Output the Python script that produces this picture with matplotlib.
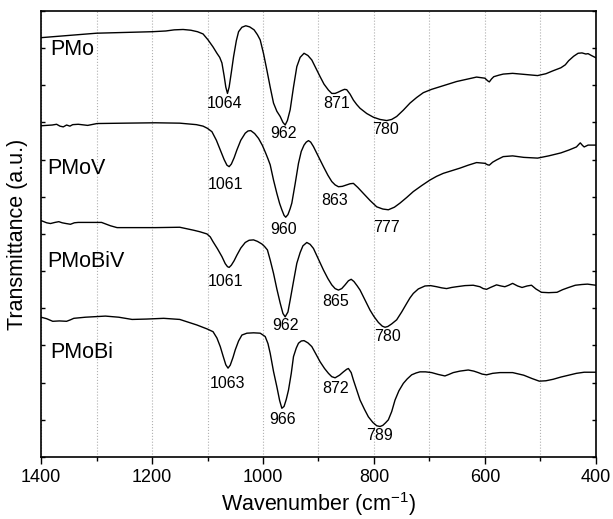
import matplotlib
matplotlib.use("Agg")
import matplotlib.pyplot as plt
from matplotlib.ticker import MultipleLocator

plt.rcParams['font.family'] = ['Liberation Sans', 'DejaVu Sans']
plt.rcParams['mathtext.default'] = 'regular'

# ---------------- data (wavenumber cm^-1, transmittance a.u.) ----------------
pmo_wn = [1400, 1350, 1300, 1250, 1200, 1175, 1160, 1144, 1130, 1118, 1108, 1099, 1090, 1083,
          1078, 1074, 1070, 1067, 1064, 1061, 1057, 1053, 1048, 1044, 1038, 1031, 1024, 1016,
          1010, 1005, 999, 993, 987, 981, 975, 969, 964, 960, 956, 951, 945, 939, 933, 926,
          919, 912, 905, 897, 890, 882, 876, 870, 865, 858, 853, 849, 843, 837, 831, 825,
          813, 801, 789, 777, 768, 759, 747, 735, 723, 711, 696, 681, 666, 651, 633, 615,
          600, 595, 592, 588, 584, 575, 567, 550, 520, 505, 490, 477, 463, 455, 449, 440,
          432, 425, 418, 414, 408, 400]
pmo_t = [11.28, 11.34, 11.40, 11.42, 11.44, 11.46, 11.49, 11.50, 11.48, 11.44, 11.38, 11.22,
         11.03, 10.86, 10.75, 10.60, 10.25, 9.95, 9.78, 9.95, 10.35, 10.77, 11.20, 11.44,
         11.56, 11.60, 11.57, 11.49, 11.36, 11.22, 10.85, 10.41, 9.95, 9.52, 9.30, 9.16,
         9.00, 8.93, 9.05, 9.34, 9.95, 10.50, 10.75, 10.86, 10.80, 10.68, 10.47, 10.23,
         10.03, 9.87, 9.78, 9.78, 9.81, 9.86, 9.89, 9.88, 9.76, 9.60, 9.48, 9.38, 9.24,
         9.14, 9.08, 9.05, 9.08, 9.16, 9.33, 9.52, 9.67, 9.80, 9.89, 9.96, 10.03, 10.10,
         10.16, 10.22, 10.19, 10.12, 10.09, 10.17, 10.23, 10.27, 10.30, 10.32, 10.28, 10.26,
         10.31, 10.39, 10.47, 10.55, 10.66, 10.78, 10.86, 10.87, 10.84, 10.85, 10.80, 10.74]

pmov_wn = [1400, 1390, 1380, 1372, 1366, 1360, 1354, 1348, 1343, 1333, 1316, 1299, 1250,
           1194, 1150, 1120, 1108, 1100, 1092, 1084, 1077, 1070, 1065, 1061, 1057, 1052,
           1047, 1040, 1032, 1027, 1022, 1015, 1008, 1001, 995, 991, 987, 981, 975, 970,
           966, 962, 959, 955, 951, 948, 942, 936, 931, 926, 922, 918, 914, 909, 900, 891,
           883, 876, 870, 864, 857, 849, 843, 837, 829, 819, 807, 795, 784, 774, 763, 753,
           741, 729, 714, 699, 687, 675, 660, 645, 630, 615, 600, 595, 592, 586, 579, 567,
           550, 530, 505, 485, 463, 448, 435, 430, 428, 424, 421, 414, 400]
pmov_t = [8.91, 8.92, 8.93, 8.95, 8.90, 8.88, 8.93, 8.90, 8.94, 8.95, 8.92, 8.97, 8.98,
          8.99, 8.98, 8.94, 8.90, 8.84, 8.75, 8.52, 8.26, 8.00, 7.85, 7.81, 7.88, 8.05,
          8.26, 8.52, 8.71, 8.77, 8.78, 8.70, 8.57, 8.38, 8.17, 8.02, 7.86, 7.45, 7.09,
          6.82, 6.65, 6.50, 6.45, 6.52, 6.68, 6.83, 7.35, 7.90, 8.22, 8.39, 8.47, 8.51,
          8.47, 8.35, 8.08, 7.81, 7.58, 7.41, 7.32, 7.27, 7.28, 7.32, 7.35, 7.36, 7.25,
          7.09, 6.90, 6.73, 6.67, 6.65, 6.72, 6.83, 6.98, 7.14, 7.30, 7.45, 7.55, 7.63,
          7.70, 7.77, 7.85, 7.92, 7.90, 7.86, 7.85, 7.93, 7.99, 8.08, 8.10, 8.06, 8.04,
          8.10, 8.18, 8.26, 8.34, 8.42, 8.45, 8.38, 8.34, 8.39, 8.39]

pmobiv_wn = [1400, 1390, 1383, 1375, 1368, 1362, 1355, 1347, 1340, 1333, 1310, 1291, 1275,
             1263, 1230, 1194, 1150, 1125, 1114, 1101, 1095, 1090, 1082, 1074, 1068, 1064,
             1061, 1057, 1052, 1047, 1040, 1032, 1025, 1017, 1010, 1002, 997, 992, 987, 981,
             975, 969, 964, 960, 955, 951, 945, 939, 933, 928, 921, 915, 909, 900, 891, 883,
             876, 870, 864, 858, 852, 846, 841, 836, 830, 825, 816, 807, 800, 792, 785, 780,
             775, 768, 759, 750, 741, 735, 729, 720, 708, 698, 687, 678, 669, 660, 651, 636,
             621, 609, 603, 597, 590, 579, 571, 564, 557, 550, 541, 533, 524, 516, 508, 498,
             485, 470, 460, 449, 437, 425, 415, 400]
pmobiv_t = [6.36, 6.30, 6.28, 6.31, 6.33, 6.30, 6.28, 6.26, 6.30, 6.31, 6.31, 6.31, 6.22,
            6.17, 6.17, 6.17, 6.18, 6.10, 6.06, 6.00, 5.92, 5.79, 5.60, 5.39, 5.20, 5.12,
            5.10, 5.16, 5.28, 5.43, 5.62, 5.77, 5.83, 5.84, 5.80, 5.73, 5.66, 5.57, 5.30,
            4.94, 4.52, 4.14, 3.86, 3.77, 3.90, 4.22, 4.72, 5.21, 5.50, 5.68, 5.77, 5.72,
            5.61, 5.32, 5.03, 4.80, 4.63, 4.53, 4.49, 4.53, 4.63, 4.74, 4.78, 4.72, 4.60,
            4.49, 4.22, 3.95, 3.78, 3.62, 3.52, 3.49, 3.51, 3.58, 3.69, 3.90, 4.13, 4.28,
            4.40, 4.52, 4.60, 4.61, 4.58, 4.55, 4.53, 4.56, 4.58, 4.61, 4.62, 4.58, 4.53,
            4.51, 4.56, 4.63, 4.60, 4.58, 4.62, 4.67, 4.60, 4.56, 4.60, 4.62, 4.52, 4.43,
            4.42, 4.43, 4.50, 4.56, 4.62, 4.64, 4.65, 4.62]

pmobi_wn = [1400, 1390, 1379, 1367, 1354, 1347, 1341, 1320, 1284, 1260, 1236, 1210, 1179,
            1150, 1119, 1100, 1090, 1083, 1077, 1072, 1067, 1063, 1059, 1054, 1050, 1044,
            1038, 1029, 1017, 1005, 996, 991, 987, 981, 975, 970, 966, 962, 958, 954, 949,
            945, 940, 936, 931, 926, 919, 912, 905, 897, 889, 882, 876, 870, 862, 855, 849,
            846, 841, 837, 831, 825, 817, 810, 802, 795, 789, 784, 779, 774, 768, 762, 755,
            747, 740, 732, 724, 717, 707, 696, 684, 672, 665, 657, 645, 630, 620, 612, 605,
            597, 586, 573, 560, 550, 530, 515, 502, 490, 477, 463, 449, 435, 421, 400]
pmobi_t = [3.76, 3.72, 3.65, 3.66, 3.65, 3.69, 3.73, 3.76, 3.79, 3.76, 3.70, 3.71, 3.73,
           3.70, 3.55, 3.44, 3.37, 3.20, 2.97, 2.72, 2.48, 2.39, 2.47, 2.68, 2.88, 3.12,
           3.28, 3.33, 3.34, 3.33, 3.24, 3.05, 2.79, 2.30, 1.89, 1.52, 1.31, 1.36, 1.55,
           1.80, 2.25, 2.70, 2.93, 3.06, 3.12, 3.13, 3.07, 2.97, 2.78, 2.56, 2.38, 2.25,
           2.16, 2.13, 2.20, 2.29, 2.36, 2.38, 2.27, 2.07, 1.80, 1.53, 1.28, 1.08, 0.93,
           0.84, 0.82, 0.85, 0.92, 1.00, 1.22, 1.53, 1.78, 1.98, 2.10, 2.21, 2.26, 2.29,
           2.29, 2.27, 2.22, 2.18, 2.22, 2.27, 2.31, 2.34, 2.31, 2.27, 2.23, 2.21, 2.25,
           2.27, 2.27, 2.27, 2.20, 2.11, 2.04, 2.05, 2.09, 2.15, 2.20, 2.25, 2.28, 2.28]

series_names = ["PMo", "PMoV", "PMoBiV", "PMoBi"]
name_pos = [(1384, 10.97), (1389, 7.77), (1389, 5.25), (1384, 2.82)]

peak_labels = ["1064", "962", "871", "780",
               "1061", "960", "863", "777",
               "1061", "962", "865", "780",
               "1063", "966", "872", "789"]
peak_pos = [(1070, 9.50), (963, 8.71), (867, 9.52), (779, 8.80),
            (1067, 7.34), (963, 6.11), (870, 6.90), (777, 6.18),
            (1067, 4.72), (960, 3.55), (869, 4.18), (775, 3.24),
            (1064, 1.98), (965, 1.00), (869, 1.85), (790, 0.59)]

# ---------------- plot ----------------
fig = plt.figure(figsize=(6.13, 5.19), dpi=100)
ax = fig.add_axes([0.067, 0.1195, 0.905, 0.8595])

for wn, t in [(pmo_wn, pmo_t), (pmov_wn, pmov_t), (pmobiv_wn, pmobiv_t), (pmobi_wn, pmobi_t)]:
    ax.plot(wn, t, color='black', lw=1.0, solid_joinstyle='round')

for name, (x, y) in zip(series_names, name_pos):
    ax.text(x, y, name, fontsize=15.5, ha='left', va='center')

for lab, (x, y) in zip(peak_labels, peak_pos):
    ax.text(x, y, lab, fontsize=11.5, ha='center', va='center')

ax.set_xlim(1400, 400)
ax.set_ylim(0, 12)
ax.xaxis.set_major_locator(MultipleLocator(200))
ax.xaxis.set_minor_locator(MultipleLocator(100))
ax.yaxis.set_major_locator(MultipleLocator(1))
ax.set_yticklabels([])
ax.tick_params(axis='x', which='major', direction='out', length=5, width=1, labelsize=13, top=False)
ax.tick_params(axis='x', which='minor', direction='out', length=3, width=1, top=False)
ax.tick_params(axis='y', which='major', direction='in', length=3, width=1, left=True, right=True)

ax.grid(True, axis='x', which='both', linestyle=':', color='#b0b0b0', lw=0.8)
for s in ax.spines.values():
    s.set_linewidth(1.2)

ax.set_xlabel('Wavenumber (cm$^{-1}$)', fontsize=15.5, labelpad=3)
ax.set_ylabel('Transmittance (a.u.)', fontsize=15.5, labelpad=6)

fig.savefig('out.png', dpi=100)
